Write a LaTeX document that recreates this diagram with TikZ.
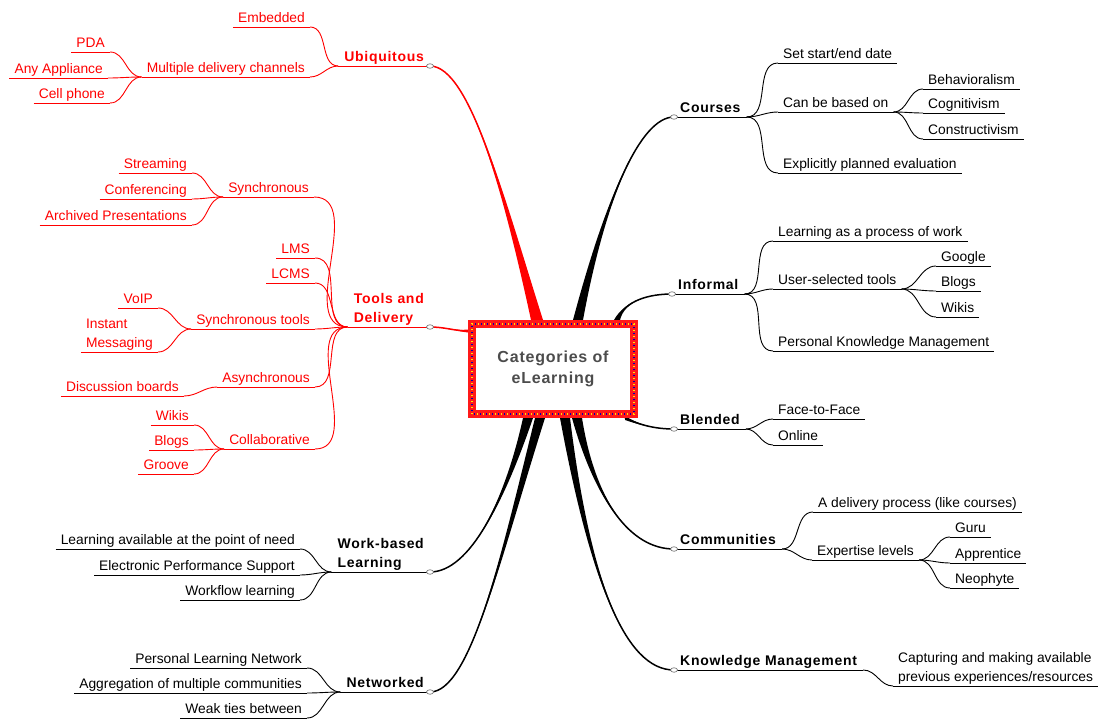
\documentclass[tikz,border=0pt]{standalone}
\usepackage{fontspec}
\setmainfont{Liberation Sans}
\newfontfamily\topicfont[LetterSpace=5]{Liberation Sans}
\usetikzlibrary{calc,positioning,shapes.geometric,backgrounds}
\newcommand{\leaffont}{\fontsize{13.8}{19}\selectfont}
\newcommand{\headfont}{\topicfont\bfseries\fontsize{14}{19}\selectfont}
% tapered main branch: colour, start, control 1, control 2, end, half width
\newcommand{\mainbranch}[6]{%
  \fill[#1] ($(#2)+#6$) .. controls #3 and #4 .. (#5) .. controls #4 and #3 .. ($(#2)-#6$) -- cycle;
  \draw[#1,line width=1.5pt] (#2) .. controls #3 and #4 .. (#5);
}
\tikzset{
  ul/.style={append after command={(\tikzlastnode.south west) edge[draw=#1,line width=0.9pt] (\tikzlastnode.south east)}},
  leaf/.style={font=\leaffont,inner xsep=5pt,inner ysep=4pt,text depth=0pt},
  rleaf/.style={leaf,text=red,ul=red},
  bleaf/.style={leaf,text=black,ul=black},
  rtopic/.style={leaf,font=\headfont,inner xsep=6pt,text=red,ul=red},
  btopic/.style={leaf,font=\headfont,inner xsep=6pt,text=black,ul=black},
  rlink/.style={draw=red,line width=0.9pt},
  blink/.style={draw=black,line width=0.9pt},
  marker/.style={ellipse,draw=black!60,fill=white,line width=0.6pt,minimum width=7pt,minimum height=4.5pt,inner sep=0pt},
  root/.style={draw=red!90!white,line width=8pt,fill=white,minimum width=162pt,minimum height=90pt,align=center,
    font=\topicfont\bfseries\fontsize{16}{21}\selectfont,text=black!70},
  rootdots/.style={line width=1.2pt,dash pattern=on 1.2pt off 4.8pt}
}
\begin{document}
\begin{tikzpicture}[x=1pt,y=-1pt]
\useasboundingbox (0,0) rectangle (1110,719);

% centre
\node[root] (root) at (553,369) {Categories of\\eLearning};
\draw[rootdots,yellow!90!orange] ([shift={(4,-4)}]root.south west) rectangle ([shift={(-4,4)}]root.north east);
\draw[rootdots,blue!70!black,dash phase=3pt] ([shift={(4,-4)}]root.south west) rectangle ([shift={(-4,4)}]root.north east);

% left side
\node[rtopic,anchor=south east] (ubiq) at (430,66) {Ubiquitous};
\node[rleaf,anchor=south east] (embed) at (310,27) {Embedded};
\node[rleaf,anchor=south east] (multi) at (310,77) {Multiple delivery channels};
\node[rleaf,anchor=south east] (pda) at (110,52) {PDA};
\node[rleaf,anchor=south east] (anyapp) at (108,78) {Any Appliance};
\node[rleaf,anchor=south east] (cell) at (110,103) {Cell phone};

\node[rtopic,anchor=south east,align=left] (tools) at (430,327) {Tools and\\Delivery};
\node[rleaf,anchor=south east] (sync) at (314,197) {Synchronous};
\node[rleaf,anchor=south east] (stream) at (192,173) {Streaming};
\node[rleaf,anchor=south east] (conf) at (192,199) {Conferencing};
\node[rleaf,anchor=south east] (archived) at (192,225) {Archived Presentations};
\node[rleaf,anchor=south east] (lms) at (315,258) {LMS};
\node[rleaf,anchor=south east] (lcms) at (315,283) {LCMS};
\node[rleaf,anchor=south east] (synctools) at (315,329) {Synchronous tools};
\node[rleaf,anchor=south east] (voip) at (158,308) {VoIP};
\node[rleaf,anchor=south east,align=left] (instant) at (158,352) {Instant\\Messaging};
\node[rleaf,anchor=south east] (async) at (315,387) {Asynchronous};
\node[rleaf,anchor=south east] (discuss) at (184,396) {Discussion boards};
\node[rleaf,anchor=south east] (collab) at (315,449) {Collaborative};
\node[rleaf,anchor=south east] (wikis) at (194,425) {Wikis};
\node[rleaf,anchor=south east] (blogs) at (194,450) {Blogs};
\node[rleaf,anchor=south east] (groove) at (194,474) {Groove};

\node[btopic,anchor=south east,align=left] (work) at (430,572) {Work-based\\Learning};
\node[bleaf,anchor=south east] (avail) at (300,549) {Learning available at the point of need};
\node[bleaf,anchor=south east] (eps) at (300,575) {Electronic Performance Support};
\node[bleaf,anchor=south east] (wflow) at (300,600) {Workflow learning};

\node[btopic,anchor=south east] (net) at (430,692) {Networked};
\node[bleaf,anchor=south east] (pln) at (307,668) {Personal Learning Network};
\node[bleaf,anchor=south east] (aggr) at (307,693) {Aggregation of multiple communities};
\node[bleaf,anchor=south east] (weak) at (307,718) {Weak ties between};

% right side
\node[btopic,anchor=south west] (courses) at (674,117) {Courses};
\node[bleaf,anchor=south west] (setdate) at (778,63) {Set start/end date};
\node[bleaf,anchor=south west] (basedon) at (778,112) {Can be based on};
\node[bleaf,anchor=south west] (behav) at (923,89) {Behavioralism};
\node[bleaf,anchor=south west] (cogn) at (923,113) {Cognitivism};
\node[bleaf,anchor=south west] (constr) at (923,139) {Constructivism};
\node[bleaf,anchor=south west] (explicit) at (778,173) {Explicitly planned evaluation};

\node[btopic,anchor=south west] (informal) at (672,294) {Informal};
\node[bleaf,anchor=south west] (lproc) at (773,241) {Learning as a process of work};
\node[bleaf,anchor=south west] (usersel) at (773,289) {User-selected tools};
\node[bleaf,anchor=south west] (google) at (936,266) {Google};
\node[bleaf,anchor=south west] (blogsr) at (936,291) {Blogs};
\node[bleaf,anchor=south west] (wikisr) at (936,317) {Wikis};
\node[bleaf,anchor=south west] (pkm) at (773,351) {Personal Knowledge Management};

\node[btopic,anchor=south west] (blended) at (674,429) {Blended};
\node[bleaf,anchor=south west] (f2f) at (773,419) {Face-to-Face};
\node[bleaf,anchor=south west] (online) at (773,445) {Online};

\node[btopic,anchor=south west] (comm) at (674,549) {Communities};
\node[bleaf,anchor=south west] (deliv) at (813,512) {A delivery process (like courses)};
\node[bleaf,anchor=south west] (expert) at (812,560) {Expertise levels};
\node[bleaf,anchor=south west] (guru) at (950,537) {Guru};
\node[bleaf,anchor=south west] (appr) at (950,563) {Apprentice};
\node[bleaf,anchor=south west] (neo) at (950,588) {Neophyte};

\node[btopic,anchor=south west] (km) at (674,670) {Knowledge Management};
\node[bleaf,anchor=south west,align=left] (capture) at (893,686) {Capturing and making available\\previous experiences/resources};

% sub branches
\foreach \c in {embed,multi} \draw[rlink] (ubiq.south west) to[out=180,in=0] (\c.south east);
\foreach \c in {pda,anyapp,cell} \draw[rlink] (multi.south west) to[out=180,in=0] (\c.south east);
\foreach \c in {sync,lms,lcms,synctools,async,collab} \draw[rlink] (tools.south west) to[out=180,in=0] (\c.south east);
\foreach \c in {stream,conf,archived} \draw[rlink] (sync.south west) to[out=180,in=0] (\c.south east);
\foreach \c in {voip,instant} \draw[rlink] (synctools.south west) to[out=180,in=0] (\c.south east);
\draw[rlink] (async.south west) to[out=180,in=0] (discuss.south east);
\foreach \c in {wikis,blogs,groove} \draw[rlink] (collab.south west) to[out=180,in=0] (\c.south east);
\foreach \c in {avail,eps,wflow} \draw[blink] (work.south west) to[out=180,in=0] (\c.south east);
\foreach \c in {pln,aggr,weak} \draw[blink] (net.south west) to[out=180,in=0] (\c.south east);

\foreach \c in {setdate,basedon,explicit} \draw[blink] (courses.south east) to[out=0,in=180] (\c.south west);
\foreach \c in {behav,cogn,constr} \draw[blink] (basedon.south east) to[out=0,in=180] (\c.south west);
\foreach \c in {lproc,usersel,pkm} \draw[blink] (informal.south east) to[out=0,in=180] (\c.south west);
\foreach \c in {google,blogsr,wikisr} \draw[blink] (usersel.south east) to[out=0,in=180] (\c.south west);
\foreach \c in {f2f,online} \draw[blink] (blended.south east) to[out=0,in=180] (\c.south west);
\foreach \c in {deliv,expert} \draw[blink] (comm.south east) to[out=0,in=180] (\c.south west);
\foreach \c in {guru,appr,neo} \draw[blink] (expert.south east) to[out=0,in=180] (\c.south west);
\draw[blink] (km.south east) to[out=0,in=180] (capture.south west);

% main branches
\coordinate (s-ubiq) at ($(root.north)+(-16,0)$);
\coordinate (s-courses) at ($(root.north)+(25,0)$);
\coordinate (s-informal) at ($(root.north)+(64,0)$);
\coordinate (s-tools) at ($(root.west)+(0,-38)$);
\coordinate (s-work) at ($(root.south)+(-25,0)$);
\coordinate (s-net) at ($(root.south)+(-13,0)$);
\coordinate (s-km) at ($(root.south)+(12,0)$);
\coordinate (s-comm) at ($(root.south)+(24,0)$);
\coordinate (s-blended) at ($(root.south)+(72,0)$);
\begin{pgfonlayer}{background}
\mainbranch{red}{s-ubiq}{(505,200)}{(470,66)}{ubiq.south east}{(6,0)}
\mainbranch{red}{s-tools}{(455,331)}{(445,327)}{tools.south east}{(0,1.5)}
\mainbranch{black}{s-courses}{(605,200)}{(640,117)}{courses.south west}{(5,0)}
\mainbranch{black}{s-informal}{(625,300)}{(650,294)}{informal.south west}{(3,0)}
\mainbranch{black}{s-blended}{(640,425)}{(655,429)}{blended.south west}{(0,2)}
\mainbranch{black}{s-work}{(505,500)}{(470,572)}{work.south east}{(5,0)}
\mainbranch{black}{s-net}{(500,560)}{(470,692)}{net.south east}{(5,0)}
\mainbranch{black}{s-comm}{(595,500)}{(630,549)}{comm.south west}{(5,0)}
\mainbranch{black}{s-km}{(590,580)}{(625,670)}{km.south west}{(5,0)}
\end{pgfonlayer}

% end markers
\foreach \t in {ubiq,tools,work,net} \node[marker] (mk-\t) at (\t.south east) {};
\foreach \t in {courses,informal,blended,comm,km} \node[marker] (mk-\t) at (\t.south west) {};
\end{tikzpicture}
\end{document}
